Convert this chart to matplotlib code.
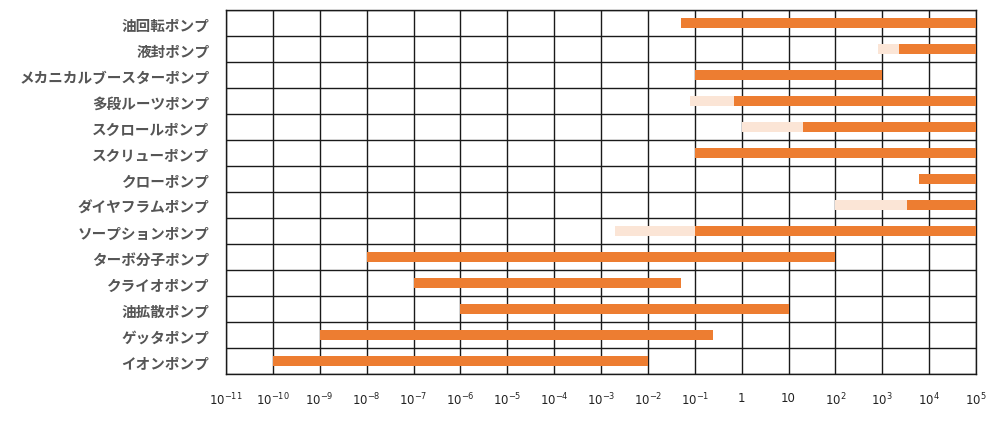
import matplotlib
matplotlib.use("Agg")
import matplotlib.pyplot as plt
import numpy as np

plt.rcParams['font.family'] = ['Noto Sans CJK JP', 'DejaVu Sans']

categories = ["油回転ポンプ", "液封ポンプ", "メカニカルブースターポンプ", "多段ルーツポンプ",
              "スクロールポンプ", "スクリューポンプ", "クローポンプ", "ダイヤフラムポンプ",
              "ソープションポンプ", "ターボ分子ポンプ", "クライオポンプ", "油拡散ポンプ",
              "ゲッタポンプ", "イオンポンプ"]
dark_start = [0.05, 2300, 0.1, 0.68, 20, 0.1, 6000, 3400, 0.1, 1e-8, 1e-7, 1e-6, 1e-9, 1e-10]
dark_end = [1e5, 1e5, 1e3, 1e5, 1e5, 1e5, 1e5, 1e5, 1e5, 100, 0.05, 10, 0.25, 1e-2]
light_start = [None, 800, None, 0.08, 1, None, None, 100, 0.002, None, None, None, None, None]
tick_exps = list(range(-11, 6))

def tick_label(e):
    if e == 0:
        return "1"
    if e == 1:
        return "10"
    return r"$\mathregular{10^{%d}}$" % e

DARK = "#ED7D31"
LIGHT = "#FBE5D6"

fig = plt.figure(figsize=(10, 4.35), dpi=100)
ax = fig.add_axes([0.226, 0.1379, 0.75, 0.8368])

n = len(categories)
ypos = np.arange(n)
h = 0.38
for i in range(n):
    if light_start[i] is not None:
        ax.barh(ypos[i], dark_start[i] - light_start[i], left=light_start[i], height=h,
                color=LIGHT, zorder=3)
    ax.barh(ypos[i], dark_end[i] - dark_start[i], left=dark_start[i], height=h,
            color=DARK, zorder=3)

ax.set_xscale('log')
ax.set_xlim(1e-11, 1e5)
ax.set_ylim(n - 0.5, -0.5)

ax.set_xticks([10.0 ** e for e in tick_exps])
ax.set_xticklabels([tick_label(e) for e in tick_exps], fontsize=8.5, family='DejaVu Sans')
ax.xaxis.set_minor_locator(matplotlib.ticker.NullLocator())
ax.set_yticks(ypos)
ax.set_yticklabels(categories, fontsize=10.5, color="#555555", fontweight='bold')
ax.set_yticks(np.arange(-0.5, n, 1.0), minor=True)

ax.tick_params(axis='x', which='both', length=0, pad=12, colors='#222222')
ax.tick_params(axis='y', which='both', length=0, pad=12)

ax.grid(True, axis='x', which='major', color='#1a1a1a', linewidth=1.0, zorder=1)
ax.grid(True, axis='y', which='minor', color='#1a1a1a', linewidth=1.0, zorder=1)
ax.set_axisbelow(True)
for s in ax.spines.values():
    s.set_color('#1a1a1a')
    s.set_linewidth(1.0)

fig.savefig("out.png", dpi=100)
